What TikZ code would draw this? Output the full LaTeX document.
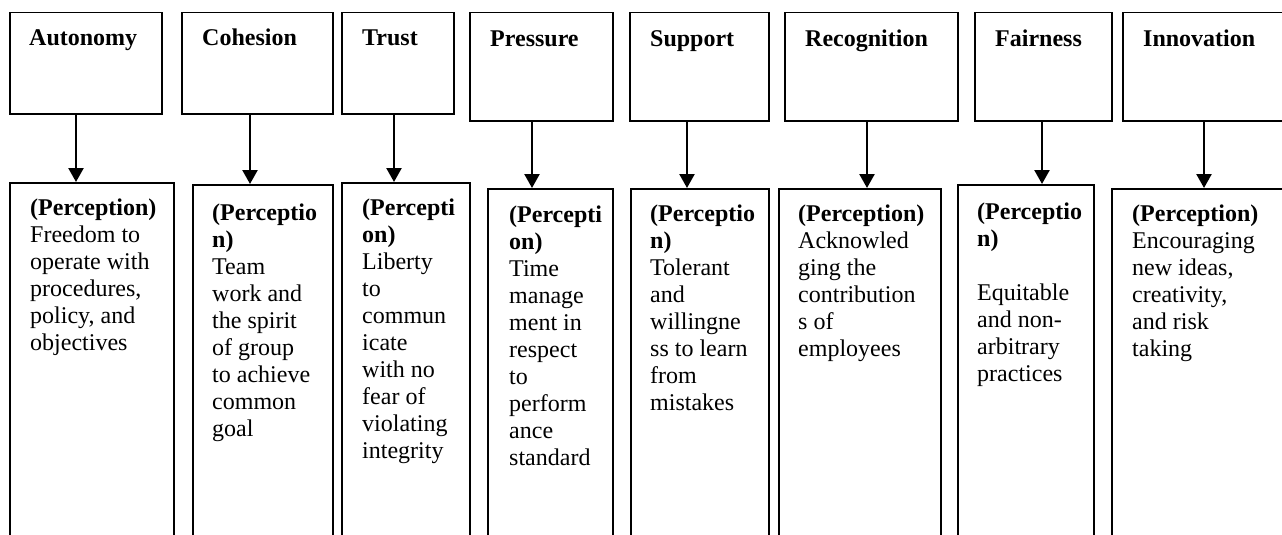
\documentclass[tikz,border=0pt]{standalone}
\usepackage{fontspec}
\setmainfont{Liberation Serif}
\usetikzlibrary{arrows.meta,calc}

\begin{document}
\begin{tikzpicture}[
  x=1pt, y=-1pt,
  frame/.style={draw=black, line width=1.5pt, rectangle, inner sep=0pt, anchor=north west},
  ttl/.style={anchor=base west, inner sep=0pt, font=\fontsize{24}{27}\selectfont\bfseries},
  txt/.style={anchor=north west, inner sep=0pt, align=left, font=\fontsize{24}{27}\selectfont},
  arr/.style={draw=black, line width=2.4pt, -{Triangle[width=15pt,length=14pt]}},
]
\useasboundingbox (0,0) rectangle (1282,535);
\clip (0,0) rectangle (1282,535);

% dimension boxes
\node[frame, minimum width=152pt, minimum height=101pt] (t1) at (9,12) {};
\node[frame, minimum width=151pt, minimum height=101pt] (t2) at (181,12) {};
\node[frame, minimum width=112pt, minimum height=101pt] (t3) at (341,12) {};
\node[frame, minimum width=143pt, minimum height=108pt] (t4) at (469,12) {};
\node[frame, minimum width=139pt, minimum height=108pt] (t5) at (629,12) {};
\node[frame, minimum width=173pt, minimum height=108pt] (t6) at (784,12) {};
\node[frame, minimum width=137pt, minimum height=108pt] (t7) at (974,12) {};
\node[frame, minimum width=178pt, minimum height=108pt] (t8) at (1122,12) {};

\node[ttl] (h1) at ($(t1.north west)+(20,34)$) {Autonomy};
\node[ttl] (h2) at ($(t2.north west)+(21,34)$) {Cohesion};
\node[ttl] (h3) at ($(t3.north west)+(21,34)$) {Trust};
\node[ttl] (h4) at ($(t4.north west)+(21,35)$) {Pressure};
\node[ttl] (h5) at ($(t5.north west)+(21,35)$) {Support};
\node[ttl] (h6) at ($(t6.north west)+(21,35)$) {Recognition};
\node[ttl] (h7) at ($(t7.north west)+(21,35)$) {Fairness};
\node[ttl] (h8) at ($(t8.north west)+(21,35)$) {Innovation};

% perception boxes (open towards the bottom edge)
\node[frame, minimum width=164pt, minimum height=380pt] (b1) at (9,182) {};
\node[frame, minimum width=140pt, minimum height=380pt] (b2) at (192,184) {};
\node[frame, minimum width=128pt, minimum height=380pt] (b3) at (341,182) {};
\node[frame, minimum width=125pt, minimum height=380pt] (b4) at (487,188) {};
\node[frame, minimum width=138pt, minimum height=380pt] (b5) at (630,188) {};
\node[frame, minimum width=162pt, minimum height=380pt] (b6) at (778,188) {};
\node[frame, minimum width=136pt, minimum height=380pt] (b7) at (957,184) {};
\node[frame, minimum width=200pt, minimum height=380pt] (b8) at (1111,188) {};

\node[txt] (p1) at ($(b1.north west)+(21,17)$) {\textbf{(Perception)}\\Freedom to\\operate with\\procedures,\\policy, and\\objectives};
\node[txt] (p2) at ($(b2.north west)+(20,20)$) {\textbf{(Perceptio}\\\textbf{n)}\\Team\\work and\\the spirit\\of group\\to achieve\\common\\goal};
\node[txt] (p3) at ($(b3.north west)+(21,17)$) {\textbf{(Percepti}\\\textbf{on)}\\Liberty\\to\\commun\\icate\\with no\\fear of\\violating\\integrity};
\node[txt] (p4) at ($(b4.north west)+(22,18)$) {\textbf{(Percepti}\\\textbf{on)}\\Time\\manage\\ment in\\respect\\to\\perform\\ance\\standard};
\node[txt] (p5) at ($(b5.north west)+(20,17)$) {\textbf{(Perceptio}\\\textbf{n)}\\Tolerant\\and\\willingne\\ss to learn\\from\\mistakes};
\node[txt] (p6) at ($(b6.north west)+(20,17)$) {\textbf{(Perception)}\\Acknowled\\ging the\\contribution\\s of\\employees};
\node[txt] (p7) at ($(b7.north west)+(20,19)$) {\textbf{(Perceptio}\\\textbf{n)}\\[27pt]Equitable\\and non-\\arbitrary\\practices};
\node[txt] (p8) at ($(b8.north west)+(21,17)$) {\textbf{(Perception)}\\Encouraging\\new ideas,\\creativity,\\and risk\\taking};

% connectors
\coordinate (a1) at ($(t1.south west)+(67,0)$);
\coordinate (a2) at ($(t2.south west)+(69,0)$);
\coordinate (a3) at ($(t3.south west)+(53,0)$);
\coordinate (a4) at ($(t4.south west)+(63,0)$);
\coordinate (a5) at ($(t5.south west)+(58,0)$);
\coordinate (a6) at ($(t6.south west)+(83,0)$);
\coordinate (a7) at ($(t7.south west)+(68,0)$);
\coordinate (a8) at ($(t8.south west)+(82,0)$);
\foreach \i in {1,...,8}
  \draw[arr] (a\i) -- (a\i |- b\i.north);
\end{tikzpicture}
\end{document}
